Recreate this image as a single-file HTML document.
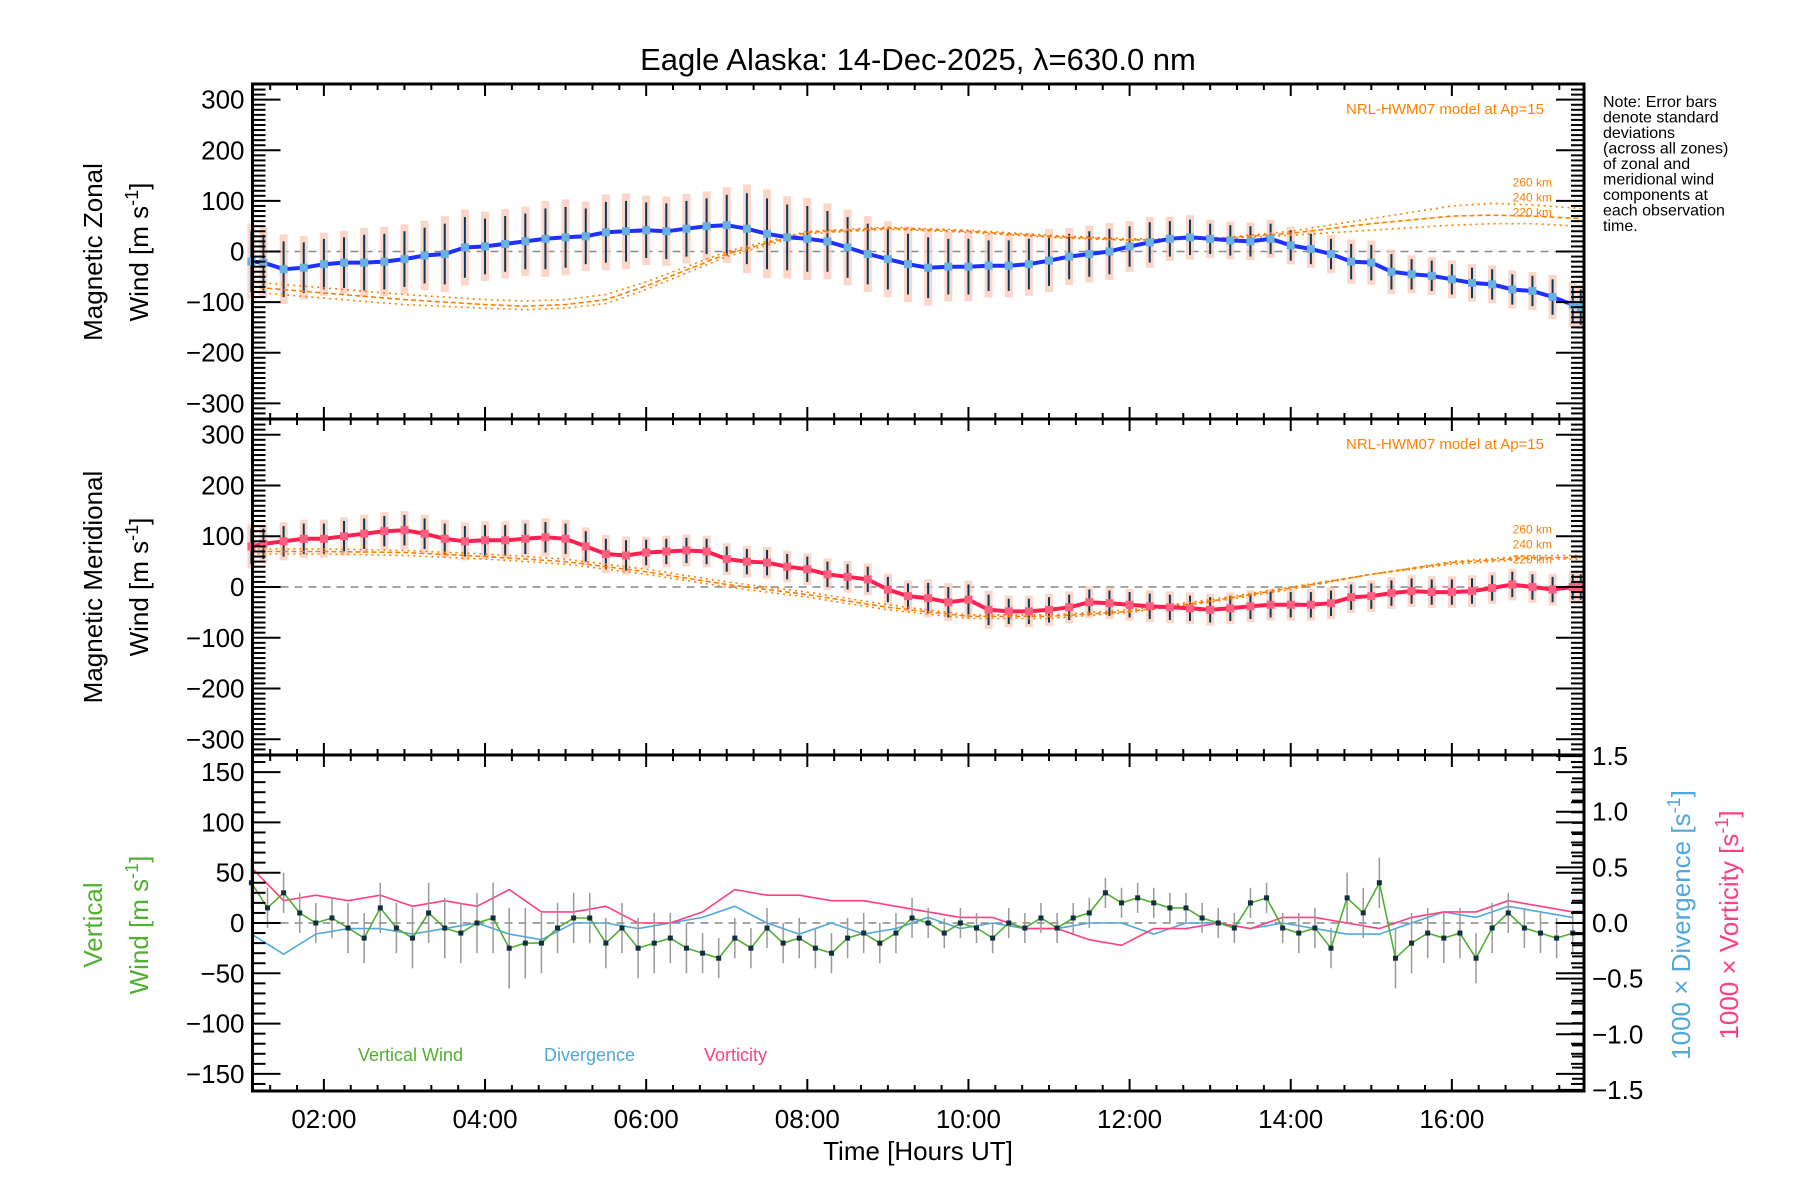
<!DOCTYPE html>
<html><head><meta charset="utf-8"><style>
html,body{margin:0;padding:0;background:#fff;}
svg{display:block;font-family:"Liberation Sans",sans-serif;}
</style></head><body>
<svg id="c" width="1800" height="1200" viewBox="0 0 1800 1200" xmlns="http://www.w3.org/2000/svg"></svg>
<script>
// ---------- DATA ----------
const zonTimes = [1.1,1.25,1.5,1.75,2.0,2.25,2.5,2.75,3.0,3.25,3.5,3.75,4.0,4.25,4.5,4.75,5.0,5.25,5.5,5.75,6.0,6.25,6.5,6.75,7.0,7.25,7.5,7.75,8.0,8.25,8.5,8.75,9.0,9.25,9.5,9.75,10.0,10.25,10.5,10.75,11.0,11.25,11.5,11.75,12.0,12.25,12.5,12.75,13.0,13.25,13.5,13.75,14.0,14.25,14.5,14.75,15.0,15.25,15.5,15.75,16.0,16.25,16.5,16.75,17.0,17.25,17.5,17.6];
const zonal = [-20,-22,-35,-32,-25,-22,-22,-20,-15,-8,-5,8,10,15,20,25,28,30,38,40,42,40,45,50,52,45,35,28,25,20,8,-5,-15,-25,-32,-30,-30,-28,-28,-25,-18,-10,-5,0,10,18,25,28,25,22,20,25,12,5,-5,-20,-22,-40,-45,-48,-55,-62,-65,-75,-78,-90,-105,-110];
const zonalErr = [60,55,55,50,50,50,55,55,55,55,60,60,55,55,55,60,60,55,60,60,55,55,55,55,60,70,70,65,65,60,60,60,60,60,60,55,55,50,50,50,50,45,45,45,40,40,35,35,30,30,30,30,30,30,30,35,35,35,30,30,30,30,30,30,30,35,35,35];
const merTimes = zonTimes;
const merid = [80,85,90,95,95,100,105,110,112,105,95,90,92,92,95,98,95,80,65,62,68,70,72,70,55,50,48,40,35,25,20,15,-5,-18,-22,-30,-25,-45,-48,-48,-45,-40,-30,-32,-35,-38,-40,-42,-45,-42,-38,-35,-35,-35,-32,-20,-18,-12,-8,-10,-10,-8,-2,5,0,-5,0,0];
const meridErr = [35,30,30,30,30,30,30,30,30,30,30,30,30,30,30,30,30,30,30,30,25,25,25,25,25,25,25,25,25,25,25,25,25,25,30,30,30,30,25,25,25,25,25,25,25,25,25,25,25,25,25,25,25,25,25,25,25,25,25,25,25,25,25,25,25,25,25,25];
const modelTimes = [1.1,2,3,4,4.5,5,5.5,6,7,8,9,10,11,12,13,14,15,16,16.5,17,17.6];
const zonModel220 = [-60,-72,-85,-95,-98,-95,-85,-60,0,40,48,42,32,25,25,32,42,52,55,55,50];
const zonModel240 = [-70,-82,-95,-105,-108,-105,-95,-68,-5,38,46,40,30,23,25,36,55,70,72,70,65];
const zonModel260 = [-80,-92,-105,-112,-115,-112,-103,-75,-10,35,44,38,28,22,25,40,65,90,95,92,85];
const merModel220 = [75,75,72,65,60,55,45,35,10,-10,-35,-55,-55,-45,-25,0,25,45,50,55,55];
const merModel240 = [70,70,68,60,55,50,40,30,5,-15,-40,-58,-58,-48,-28,-2,25,48,53,58,58];
const merModel260 = [65,65,62,55,50,45,35,25,0,-20,-45,-62,-62,-50,-30,-5,25,50,56,62,62];
const vertTimes = [1.1,1.3,1.5,1.7,1.9,2.1,2.3,2.5,2.7,2.9,3.1,3.3,3.5,3.7,3.9,4.1,4.3,4.5,4.7,4.9,5.1,5.3,5.5,5.7,5.9,6.1,6.3,6.5,6.7,6.9,7.1,7.3,7.5,7.7,7.9,8.1,8.3,8.5,8.7,8.9,9.1,9.3,9.5,9.7,9.9,10.1,10.3,10.5,10.7,10.9,11.1,11.3,11.5,11.7,11.9,12.1,12.3,12.5,12.7,12.9,13.1,13.3,13.5,13.7,13.9,14.1,14.3,14.5,14.7,14.9,15.1,15.3,15.5,15.7,15.9,16.1,16.3,16.5,16.7,16.9,17.1,17.3,17.5];
const vertical = [40,15,30,10,0,5,-5,-15,15,-5,-15,10,-5,-10,0,5,-25,-20,-20,-5,5,5,-20,-5,-25,-20,-15,-25,-30,-35,-15,-25,-5,-20,-15,-25,-30,-15,-10,-20,-10,5,0,-10,0,-5,-15,0,-5,5,-5,5,10,30,20,25,20,15,15,5,0,-5,20,25,-5,-10,-5,-25,25,10,40,-35,-20,-10,-15,-10,-35,-5,10,-5,-10,-15,-10];
const vertErr = [25,20,20,20,20,20,25,25,25,25,30,30,30,30,30,35,40,35,30,25,25,25,25,25,30,30,25,25,20,20,20,20,20,20,20,20,20,20,20,20,20,20,15,15,15,15,15,15,15,15,15,15,15,15,15,15,15,15,15,15,15,15,15,15,15,20,20,20,25,25,25,30,30,25,25,25,25,25,20,20,20,20,20];
const divTimes = [1.1,1.5,1.9,2.3,2.7,3.1,3.5,3.9,4.3,4.7,5.1,5.5,5.9,6.3,6.7,7.1,7.5,7.9,8.3,8.7,9.1,9.5,9.9,10.3,10.7,11.1,11.5,11.9,12.3,12.7,13.1,13.5,13.9,14.3,14.7,15.1,15.5,15.9,16.3,16.7,17.1,17.5];
const divergence = [-0.1,-0.28,-0.1,-0.05,-0.05,-0.1,-0.05,0.0,-0.1,-0.15,0.0,0.0,-0.05,0.0,0.05,0.15,0.0,-0.1,0.0,-0.1,-0.05,0.05,-0.05,0.0,-0.05,-0.05,0.0,0.0,-0.1,0.0,0.0,-0.05,0.0,-0.05,-0.1,-0.1,0.0,0.1,0.05,0.15,0.1,0.05];
const vorticity = [0.5,0.2,0.25,0.2,0.25,0.15,0.2,0.15,0.3,0.1,0.1,0.15,0.0,0.0,0.1,0.3,0.25,0.25,0.2,0.2,0.15,0.1,0.05,0.05,-0.05,-0.05,-0.15,-0.2,-0.05,-0.05,0.0,-0.05,0.05,0.05,0.0,-0.05,0.05,0.1,0.1,0.2,0.15,0.1];
const xTickLabels = ["02:00","04:00","06:00","08:00","10:00","12:00","14:00","16:00"];
const xTickHours = [2,4,6,8,10,12,14,16];
const windTicks = [300,200,100,0,-100,-200,-300];
const vertTicks = [150,100,50,0,-50,-100,-150];
const rightTicks = [1.5,1.0,0.5,0.0,-0.5,-1.0,-1.5];

// ---------- LAYOUT ----------
const NS="http://www.w3.org/2000/svg";
const svg=document.getElementById('c');
const X0=252.5,X1=1584,T0=1.114,T1=17.64;
const x=t=>X0+(t-T0)/(T1-T0)*(X1-X0);
const P1={top:84,bot:419,min:-331,max:331};
const P2={top:419,bot:755,min:-331,max:331};
const P3={top:755,bot:1091,min:-167,max:167};
const R3={min:-1.51,max:1.51};
const yOf=(p,v)=>p.bot-(v-p.min)/(p.max-p.min)*(p.bot-p.top);
const yR=v=>P3.bot-(v-R3.min)/(R3.max-R3.min)*(P3.bot-P3.top);
function el(tag,attrs,parent){const e=document.createElementNS(NS,tag);for(const k in attrs)e.setAttribute(k,attrs[k]);(parent||svg).appendChild(e);return e;}
function txt(s,attrs,parent){const e=el('text',attrs,parent);e.textContent=s;return e;}
function poly(ts,vs,yf,style,name){
  const pts=ts.map((t,i)=>x(t).toFixed(1)+','+yf(vs[i]).toFixed(1)).join(' ');
  const e=el('polyline',Object.assign({points:pts,fill:'none'},style));
  
  
  return e;
}

const ttl=txt('Eagle Alaska: 14-Dec-2025, λ=630.0 nm',{x:918,y:70,'font-size':31,'text-anchor':'middle',fill:'#000'});



const note=["Note: Error bars","denote standard","deviations","(across all zones)","of zonal and","meridional wind","components at","each observation","time."];
note.forEach((s,i)=>{const e=txt(s,{x:1603,y:107+i*15.5,'font-size':16,fill:'#000'});

});

function windPanel(P,ts,vals,errs,m220,m240,m260,lineColor,dotColor,pname){
  const g=el('g',{});
  
  
  el('line',{x1:X0,x2:X1,y1:yOf(P,0),y2:yOf(P,0),stroke:'#888','stroke-width':1.5,'stroke-dasharray':'8,6'},g);
  ts.forEach((t,i)=>{const r=el('rect',{x:x(t)-4,y:yOf(P,vals[i]+errs[i]*1.25),width:8,height:yOf(P,vals[i]-errs[i]*1.25)-yOf(P,vals[i]+errs[i]*1.25),fill:'#fcc8b8',opacity:0.75},g);
    
    });
  [[m220,'2,4'],[m240,'5,3'],[m260,'2,4']].forEach((m,k)=>{poly(modelTimes,m[0],v=>yOf(P,v),{stroke:'#ff8000','stroke-width':1.6,'stroke-dasharray':m[1]},'hwm-model-'+(220+20*k));});
  ts.forEach((t,i)=>{const l=el('line',{x1:x(t),x2:x(t),y1:yOf(P,vals[i]+errs[i]),y2:yOf(P,vals[i]-errs[i]),stroke:'#0a3a5a','stroke-width':2},g);
    
    });
  poly(ts,vals,v=>yOf(P,v),{stroke:lineColor,'stroke-width':4},pname+'-wind-line');
  ts.forEach((t,i)=>{const d=el('rect',{x:x(t)-4,y:yOf(P,vals[i])-4,width:8,height:8,fill:dotColor});
    
    });
  const lg=txt('NRL-HWM07 model at Ap=15',{x:1544,y:P.top+30,'font-size':15,fill:'#ff8000','text-anchor':'end'});
  
  
  const last=modelTimes.length-1;
  const topY=yOf(P,Math.max(m220[last],m240[last],m260[last]))-22;
  ['260 km','240 km','220 km'].forEach((k,i)=>{const e=txt(k,{x:1552,y:topY+i*15,'font-size':12,fill:'#ff8000','text-anchor':'end'});
    
    });
}
windPanel(P1,zonTimes,zonal,zonalErr,zonModel220,zonModel240,zonModel260,'#2030ff','#6ab0e0','zonal');
windPanel(P2,merTimes,merid,meridErr,merModel220,merModel240,merModel260,'#ff2050','#ff6080','meridional');

el('line',{x1:X0,x2:X1,y1:yOf(P3,0),y2:yOf(P3,0),stroke:'#888','stroke-width':1.5,'stroke-dasharray':'8,6'});
poly(divTimes,divergence,yR,{stroke:'#50a8dc','stroke-width':1.6},'divergence-line');
poly(divTimes,vorticity,yR,{stroke:'#ff4080','stroke-width':1.6},'vorticity-line');
vertTimes.forEach((t,i)=>{const l=el('line',{x1:x(t),x2:x(t),y1:yOf(P3,vertical[i]+vertErr[i]),y2:yOf(P3,vertical[i]-vertErr[i]),stroke:'#999','stroke-width':1.5});
  
  });
poly(vertTimes,vertical,v=>yOf(P3,v),{stroke:'#50b030','stroke-width':1.6},'vertical-wind-line');
vertTimes.forEach((t,i)=>{const d=el('rect',{x:x(t)-2.5,y:yOf(P3,vertical[i])-2.5,width:5,height:5,fill:'#103040'});
  
  });
[['Vertical Wind',358,'#50b030'],['Divergence',544,'#50a8dc'],['Vorticity',704,'#ff4080']].forEach(l=>{const e=txt(l[0],{x:l[1],y:1061,'font-size':18,fill:l[2]});
  
  });

function frame(P,ticks,labelFmt,minorStep,name){
  const r=el('rect',{x:X0,y:P.top,width:X1-X0,height:P.bot-P.top,fill:'none',stroke:'#000','stroke-width':3});
  
  
  for(let v=Math.ceil(P.min/minorStep)*minorStep;v<=P.max;v+=minorStep){
    const y=yOf(P,v);const major=ticks.includes(v);const L=major?28:13;
    el('line',{x1:X0,x2:X0+L,y1:y,y2:y,stroke:'#000','stroke-width':2});
    el('line',{x1:X1,x2:X1-L,y1:y,y2:y,stroke:'#000','stroke-width':2});
  }
  ticks.forEach(v=>{const e=txt(labelFmt(v),{x:X0-8,y:yOf(P,v)+9,'font-size':26,'text-anchor':'end',fill:'#000'});
    
    });
  for(let t=Math.ceil(T0*3)/3;t<=T1;t+=1/3){
    const xx=x(t);const major=Math.abs(t/2-Math.round(t/2))<0.01;const L=major?12:6;
    el('line',{x1:xx,x2:xx,y1:P.bot,y2:P.bot-L,stroke:'#000','stroke-width':2});
    el('line',{x1:xx,x2:xx,y1:P.top,y2:P.top+L,stroke:'#000','stroke-width':2});
  }
}
const fmt=v=>(v<0?'−':'')+Math.abs(v);
frame(P1,windTicks,fmt,10,'zonal');
frame(P2,windTicks,fmt,10,'meridional');
frame(P3,vertTicks,fmt,10,'vertical');
for(let v=-1.5;v<=1.501;v+=0.1){const y=yR(v);const major=Math.abs(v*2-Math.round(v*2))<0.01;
  el('line',{x1:X1,x2:X1-(major?28:12),y1:y,y2:y,stroke:'#000','stroke-width':2});}
rightTicks.forEach(v=>{const e=txt((v<0?'−':'')+Math.abs(v).toFixed(1),{x:1592,y:yR(v)+9,'font-size':26,fill:'#000'});
  
  });
xTickHours.forEach((h,i)=>{const e=txt(xTickLabels[i],{x:x(h),y:1128,'font-size':26,'text-anchor':'middle',fill:'#000'});
  
  });
const xt=txt('Time [Hours UT]',{x:918,y:1160,'font-size':26,'text-anchor':'middle',fill:'#000'});



function vtitle(lines,cy,color,name){
  lines.forEach(l=>{const g=el('text',{transform:`translate(${l[0]},${cy}) rotate(-90)`,'font-size':26,'text-anchor':'middle',fill:color});
    g.innerHTML=l[1];
    
    });
}
const wind='Wind [m s<tspan dy="-10" font-size="18">-1</tspan><tspan dy="10">]</tspan>';
vtitle([[102,'Magnetic Zonal'],[148,wind]],252,'#000','zonal-y-axis-title');
vtitle([[102,'Magnetic Meridional'],[148,wind]],587,'#000','meridional-y-axis-title');
vtitle([[102,'Vertical'],[148,wind]],925,'#50b030','vertical-y-axis-title');
vtitle([[1690,'1000 × Divergence [s<tspan dy="-10" font-size="18">-1</tspan><tspan dy="10">]</tspan>']],925,'#50a8dc','divergence-axis-title');
vtitle([[1738,'1000 × Vorticity [s<tspan dy="-10" font-size="18">-1</tspan><tspan dy="10">]</tspan>']],925,'#ff4080','vorticity-axis-title');
</script>
</body></html>
